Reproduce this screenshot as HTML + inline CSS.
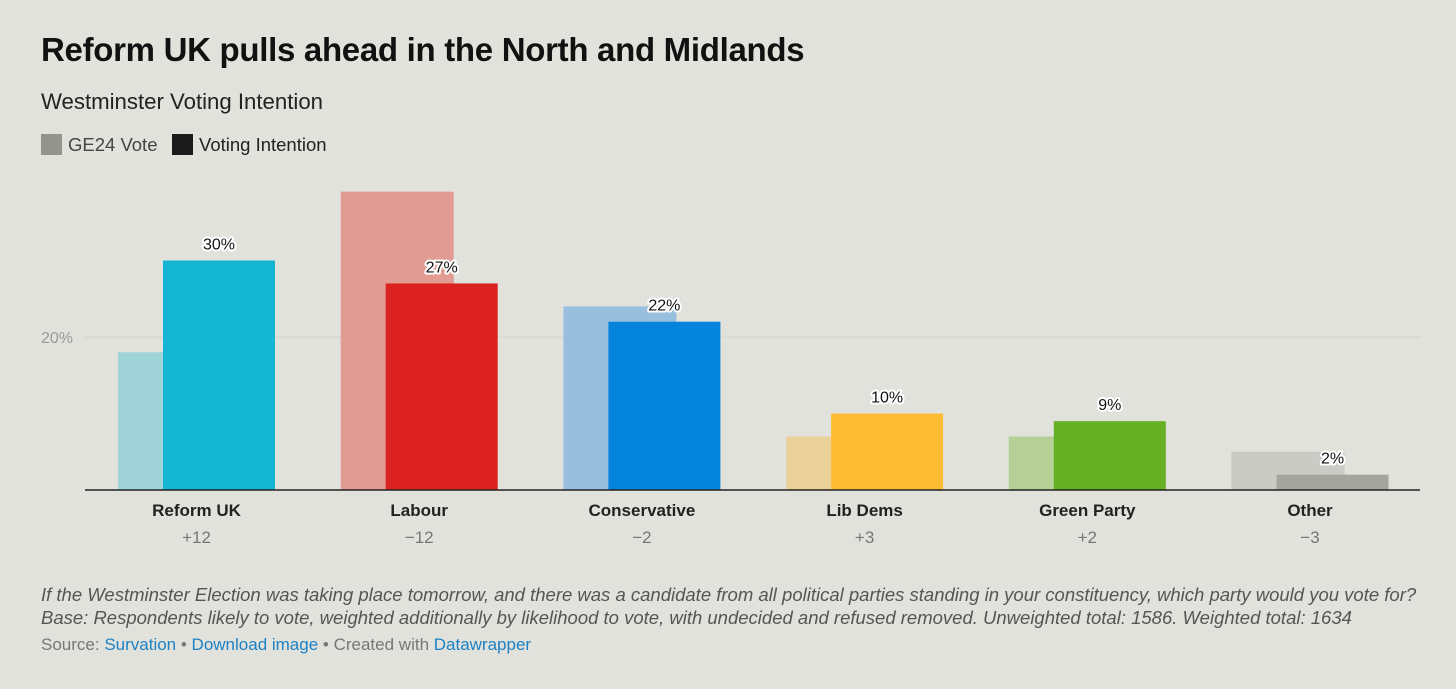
<!DOCTYPE html>
<html><head><meta charset="utf-8"><style>
body{margin:0;width:1456px;height:689px;background:#e1e2dc;font-family:"Liberation Sans",sans-serif;overflow:hidden;position:relative}
.t{position:absolute;white-space:nowrap}
a{color:#1d81c4;text-decoration:none}
</style></head><body>
<div class="t" style="left:41px;top:31px;font-size:33px;font-weight:bold;color:#111;letter-spacing:-0.3px">Reform UK pulls ahead in the North and Midlands</div>
<div class="t" style="left:41px;top:89px;font-size:22.2px;color:#222">Westminster Voting Intention</div>
<div class="t" style="left:41px;top:134px;font-size:18.5px;color:#444"><span style="display:inline-block;width:21px;height:21px;background:#94948f;vertical-align:-4px;margin-right:6px"></span>GE24 Vote</div>
<div class="t" style="left:172px;top:134px;font-size:18.5px;color:#222"><span style="display:inline-block;width:21px;height:21px;background:#1a1a1a;vertical-align:-4px;margin-right:6px"></span>Voting Intention</div>
<svg id="chart" width="1456" height="580" style="position:absolute;left:0;top:0"></svg>
<div class="t" style="left:41px;top:583px;font-size:18.5px;font-style:italic;color:#555;line-height:23px">If the Westminster Election was taking place tomorrow, and there was a candidate from all political parties standing in your constituency, which party would you vote for?<br>Base: Respondents likely to vote, weighted additionally by likelihood to vote, with undecided and refused removed. Unweighted total: 1586. Weighted total: 1634</div>
<div class="t" style="left:41px;top:635px;font-size:17px;color:#777">Source: <a>Survation</a> • <a>Download image</a> • Created with <a>Datawrapper</a></div>
<script>
const categories=["Reform UK","Labour","Conservative","Lib Dems","Green Party","Other"];
const ge24=[18,39,24,7,7,5];
const vi=[30,27,22,10,9,2];
const changes=["+12","−12","−2","+3","+2","−3"];
const viColors=["#15b5d4","#dc2221","#0484dc","#fbbb33","#66b023","#a5a5a0"];
const geColors=["#9fd3d8","#e29b92","#98bfde","#ead199","#b5cf96","#cbcbc6"];
const svg=document.getElementById('chart');const NS="http://www.w3.org/2000/svg";
const base=490,ppu=7.65;
const y=v=>base-v*ppu;
const cx=i=>196.5+i*222.7;
function mk(tag,at){const e=document.createElementNS(NS,tag);for(const k in at)e.setAttribute(k,at[k]);svg.appendChild(e);return e;}
let g=mk('line',{x1:85,x2:1420,y1:y(20),y2:y(20),stroke:'#d3d4ce','stroke-width':1});


let gl=mk('text',{x:41,y:y(20)+6,'font-size':16,fill:'#999'});gl.textContent='20%';


categories.forEach((c,i)=>{
 let b=mk('rect',{x:cx(i)-78.5,y:y(ge24[i]),width:113,height:ge24[i]*ppu,fill:geColors[i]});
 
 
 let v=mk('rect',{x:cx(i)-33.5,y:y(vi[i]),width:112,height:vi[i]*ppu,fill:viColors[i]});
 
 
 let l=mk('text',{x:cx(i)+22.5,y:y(vi[i])-11,'font-size':16,'text-anchor':'middle',fill:'#111',stroke:'#fff','stroke-width':4,'paint-order':'stroke','stroke-linejoin':'round'});l.textContent=vi[i]+'%';
 
 
 let t=mk('text',{x:cx(i),y:516,'font-size':17,'font-weight':'bold','text-anchor':'middle',fill:'#222'});t.textContent=c;
 
 
 let d=mk('text',{x:cx(i),y:543,'font-size':17,'text-anchor':'middle',fill:'#777'});d.textContent=changes[i];
 
 
});
let ax=mk('line',{x1:85,x2:1420,y1:base,y2:base,stroke:'#222','stroke-width':1.5});


</script>
</body></html>
